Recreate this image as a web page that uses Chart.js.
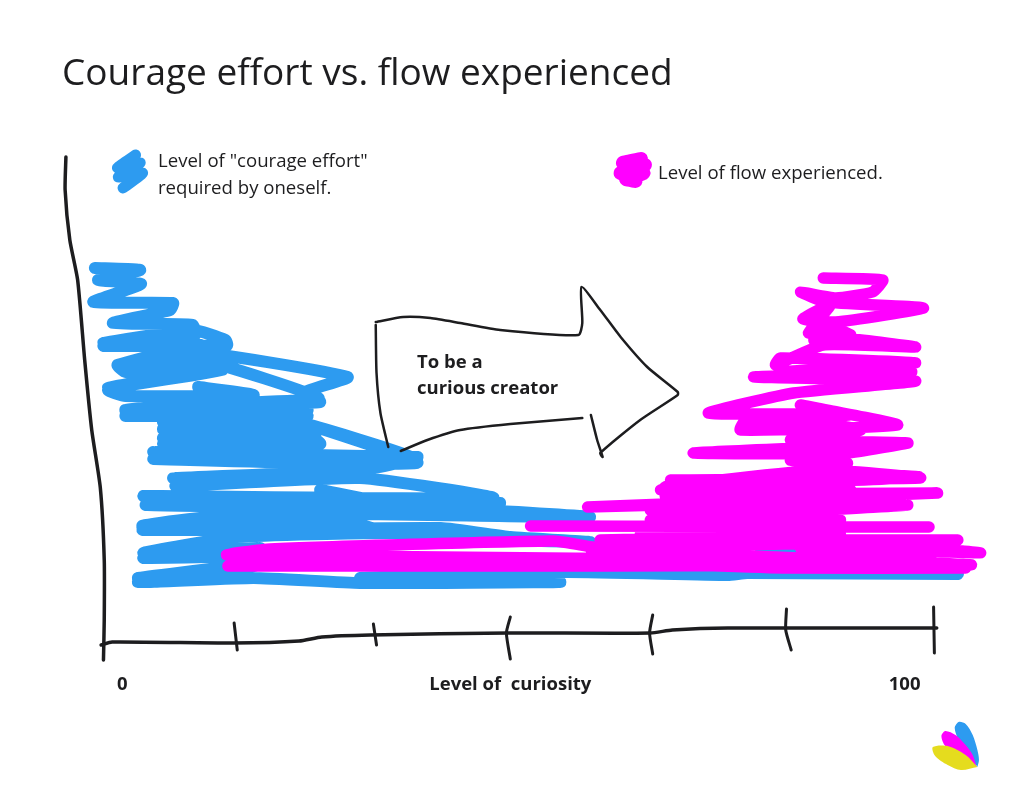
<!DOCTYPE html>
<html>
<head>
<meta charset="utf-8">
<title>Courage effort vs. flow experienced</title>
<script src="https://cdn.jsdelivr.net/npm/chart.js@4/dist/chart.umd.min.js"></script>
<style>
  html, body { margin: 0; padding: 0; background: #fff; }
  canvas { display: block; }
</style>
</head>
<body>
<canvas id="flow-diagram" width="1024" height="812"></canvas>
<script>
// x is level of curiosity, y is level (both)
const tickValues = [0, 49.6, 100];
const tickLabels = ["0", "Level of  curiosity", "100"];

const courageX = [-3.5, 2.3, -3.1, 2.4, -3.7, 6.5, 6.1, -1.2, 9, 9.3, -2.4, 9.1, 13.2, 13.4, -2.4, 10, 10, 7.4, -0.6, 7.4, 28.8, 23.4, 25.3, 15.1, 25.1, 10, -0.6, 0.4, 12.8, -1.8, 7.4, -1.8, 0.4, 16.8, 9.7, 16.8, 0.4, 23.7, 0.4, 23.7, 5.2, 24, 5.2, 24, 5.2, 24.7, 5.2, 25.3, 15.1, 16.4, 4, 37.7, 22.8, 4, 37.7, 24, 37.2, 30.4, 6.5, 29.8, 6.8, 30.4, 47.4, 2.7, 48.3, 3, 35.5, 25.3, 40.7, 23.1, 59.8, 16.4, 2.6, 33, 26.6, 2.6, 40.7, 49.6, 59.8, 49.6, 34.3, 14.7, 2.7, 17.6, 2.7, 23.5, 2, 16.9, 2, 16.8, 30.4, 56, 30.4, 56.6, 77.4, 79.9, 106.8, 86.7, 81.6, 89.5];
const courageY = [74.4, 74, 72, 71.2, 67.6, 67.4, 66, 63.4, 63, 61, 59.4, 62, 60, 59, 58.8, 59, 55, 57.6, 55, 58, 52.6, 49.6, 47.6, 47.4, 48.4, 56, 55, 53.6, 54, 50.4, 53.4, 50, 48.8, 49, 50.6, 48.4, 46, 46, 44.8, 44.8, 43.6, 43, 42.2, 41.6, 40.4, 40.6, 39.2, 39.2, 48, 38, 37.6, 36.6, 35.6, 36.2, 35.4, 43, 36.4, 34, 32.4, 33.4, 30.8, 32.4, 28.4, 28.8, 27.4, 27, 26.6, 30, 25, 28, 24.6, 25.4, 22.8, 21.6, 24.6, 22, 22.4, 20.6, 19.6, 20, 21.4, 20.6, 17.4, 18.4, 16.4, 16.8, 12.4, 14.8, 11.6, 12.4, 11.4, 11.6, 12.4, 13.6, 13, 13.4, 13.2, 14, 17.4, 17.4];

const flowX = [89.6, 97.2, 95.9, 91.2, 86.7, 89.9, 102.4, 91.2, 87, 90.5, 87.7, 90.2, 93.1, 88.4, 93.1, 101.4, 89.6, 83.5, 84.1, 101.4, 84.1, 100.9, 80.7, 101.4, 85.8, 74.9, 85.8, 93.1, 86.7, 99.1, 79, 79.7, 86.1, 94.4, 85.4, 100.4, 73, 92.7, 100.4, 85.4, 92.7, 86.7, 101.8, 69.4, 89.3, 102, 70.1, 91.8, 68.8, 93.1, 69.4, 104.2, 59.5, 93.1, 67.5, 100.4, 67.5, 91.8, 67.5, 103.1, 52.2, 91.8, 66.2, 91.8, 61.1, 106.8, 59.8, 89.3, 109.7, 86.7, 103.3, 13.4, 18.9, 55.1, 61.1, 80.3, 108.4, 13.6, 59.8, 85, 107.8];
const flowY = [72.4, 72, 69.6, 68.4, 69.6, 67.6, 66.4, 63.6, 64.2, 67, 61.4, 62.6, 61, 60, 60.2, 58.6, 59, 55, 56.4, 55.4, 53.6, 53.6, 52.6, 51.8, 49.4, 45.4, 45.2, 45, 47, 43, 42, 44, 44, 42, 40, 39.4, 37.4, 37.4, 39.4, 36, 35.4, 34, 32.6, 30.6, 34, 32.4, 32, 32, 30, 30, 29, 29.4, 26.6, 28, 26, 27, 24, 24, 22.8, 22.6, 22.8, 22.6, 21, 21, 20, 20, 18.4, 20, 17.4, 18.4, 16, 17, 18.2, 19.8, 18.4, 16.8, 15, 14.8, 15.6, 14.4, 14.4];

// hand drawn axes
const axisLeftX = [-7.2, -7.3, -6.7, -5.7, -4.8, -3.9, -2.8, -2.3, -2.3, -2.4];
const axisLeftY = [96.6, 90, 80, 72, 56, 42, 30.4, 16, 4, -4];
const axisBottomX = [-2.7, -1.3, 14.2, 22.6, 25.5, 31.7, 49.4, 67.5, 70.3, 77.4, 104.1];
const axisBottomY = [-1, -0.4, -0.6, -0.2, 0.6, 1, 1.4, 1.4, 2, 2.4, 2.4];
const tickMarksX = [[14.3, 14.7], [32.1, 32.5], [49.6, 49.1, 49.6], [67.8, 67.4, 67.8], [84.9, 84.8, 85.5], [103.7, 103.8]];
const tickMarksY = [[3.4, -2], [3.2, -1], [4.6, 1.4, -3.8], [5, 1.4, -2.8], [6.2, 2, -2], [6.6, -2.6]];

// arrow
const arrowTopX = [32.4, 35.9, 39.4, 43.2, 48.3, 58.3, 58.8, 58.7, 61.1, 63.7, 67.1, 71, 71, 66.2, 61.1, 61.4, 60.7, 59.9];
const arrowTopY = [63.6, 64.6, 64.4, 63.4, 62, 61, 63.4, 70.6, 66, 60.6, 54.6, 49.6, 49, 44, 37.4, 36.6, 40, 45];
const arrowLeftX = [32.4, 32.5, 33, 34];
const arrowLeftY = [63, 53.4, 45.4, 38.6];
const arrowBottomX = [35.6, 39, 43.2, 49.6, 58.8];
const arrowBottomY = [37.8, 40, 42, 43.2, 44.4];

// legend scribbles
const courageKeyX = [1.7, -0.6, 2.3, -0.5, 2.6, 0.1];
const courageKeyY = [97, 94.4, 95.4, 92.6, 93.4, 90.4];
const flowKeyX = [66.3, 64, 66.8, 63.7, 66.6, 64.4, 65.6];
const flowKeyY = [96.2, 95.4, 95, 93.4, 93.4, 92.2, 91.8];

// logo petals
const petalBlueX = [109.3, 108.2, 106.9, 106.4, 106.9, 107.8, 108.7, 109.3, 109.5, 109.3];
const petalBlueY = [-25.4, -23, -20, -17.6, -16.4, -16.8, -19, -22, -24, -25.4];
const petalPinkX = [109.2, 107.2, 105.2, 104.7, 105.2, 106.5, 107.8, 108.7, 109.2];
const petalPinkY = [-25.4, -23.4, -21.2, -19.2, -18.2, -19, -21, -23, -25.4];
const petalYellowX = [109.3, 107.2, 105.5, 103.9, 103.6, 105.5, 107.8, 109.3];
const petalYellowY = [-25.4, -26, -25, -23.2, -21.4, -21.2, -23, -25.4];

const titleText = "Courage effort vs. flow experienced";

const toPoints = (xs, ys) => xs.map((x, i) => ({ x: x, y: ys[i] }));

const stroke = (label, xs, ys, color, width, tension) => ({
  label: label,
  data: toPoints(xs, ys),
  showLine: true,
  borderColor: color,
  backgroundColor: color,
  borderWidth: width,
  borderCapStyle: "round",
  borderJoinStyle: "round",
  pointRadius: 0,
  tension: tension,
});

const petal = (label, xs, ys, color) => ({
  ...stroke(label, xs, ys, color, 0, 0.3),
  fill: "shape",
});

const INK = "#1d1d1f";

// first dataset ends up on top
const datasets = [
  petal("Logo yellow", petalYellowX, petalYellowY, "#e5dc1e"),
  petal("Logo pink", petalPinkX, petalPinkY, "#ff00ff"),
  petal("Logo blue", petalBlueX, petalBlueY, "#2d9bf0"),
  stroke("Arrow top", arrowTopX, arrowTopY, INK, 2.5, 0.2),
  stroke("Arrow left", arrowLeftX, arrowLeftY, INK, 2.5, 0.2),
  stroke("Arrow bottom", arrowBottomX, arrowBottomY, INK, 2.5, 0.2),
  stroke("Axis left", axisLeftX, axisLeftY, INK, 3.5, 0.2),
  stroke("Axis bottom", axisBottomX, axisBottomY, INK, 3.5, 0.2),
];
tickMarksX.forEach((xs, i) => {
  datasets.push(stroke("Tick " + i, xs, tickMarksY[i], INK, 3, 0.2));
});
datasets.push(stroke("Level of flow experienced.", flowX, flowY, "#ff00ff", 11.5, 0.15));
datasets.push(stroke("Level of courage effort", courageX, courageY, "#2d9bf0", 12, 0.15));
datasets.push(stroke("Key flow", flowKeyX, flowKeyY, "#ff00ff", 14, 0.2));
datasets.push(stroke("Key courage", courageKeyX, courageKeyY, "#2d9bf0", 11, 0.2));

// texts that are not part of an axis
const sketchNotes = {
  id: "sketchNotes",
  afterDraw(chart) {
    const ctx = chart.ctx;
    const notes = [
      ['Level of "courage effort"', 158, 162, "400 18.6px 'Open Sans'"],
      ["required by oneself.", 158, 189, "400 18.6px 'Open Sans'"],
      ["Level of flow experienced.", 658, 174, "400 18.6px 'Open Sans'"],
      ["To be a", 417, 363, "700 18.5px 'Open Sans'"],
      ["curious creator", 417, 389, "700 18.5px 'Open Sans'"],
    ];
    ctx.save();
    ctx.fillStyle = INK;
    ctx.textBaseline = "middle";
    notes.forEach((n) => {
      ctx.font = n[3];
      ctx.fillText(n[0], n[1], n[2]);
    });
    ctx.restore();
  },
};

new Chart(document.getElementById("flow-diagram").getContext("2d"), {
  type: "scatter",
  data: { datasets: datasets },
  plugins: [sketchNotes],
  options: {
    responsive: false,
    animation: false,
    layout: { padding: { left: 62, right: 2, top: 0, bottom: 2 } },
    plugins: {
      legend: { display: false },
      tooltip: { enabled: false },
      title: {
        display: true,
        text: titleText,
        align: "start",
        color: INK,
        font: { family: "'Open Sans'", size: 37, weight: "400" },
        padding: { top: 52, bottom: 43.6 },
      },
    },
    scales: {
      x: {
        type: "linear",
        position: { y: -6 },
        min: -7.7,
        max: 115,
        grid: { display: false, drawTicks: false },
        border: { display: false },
        afterBuildTicks(scale) {
          scale.ticks = tickValues.map((v) => ({ value: v }));
        },
        ticks: {
          autoSkip: false,
          maxRotation: 0,
          padding: 4,
          color: INK,
          font: { family: "'Open Sans'", size: 18.5, weight: "700" },
          callback: (v) => tickLabels[tickValues.indexOf(v)],
        },
      },
      y: {
        type: "linear",
        min: -34,
        max: 100,
        display: false,
      },
    },
  },
});
</script>
</body>
</html>
